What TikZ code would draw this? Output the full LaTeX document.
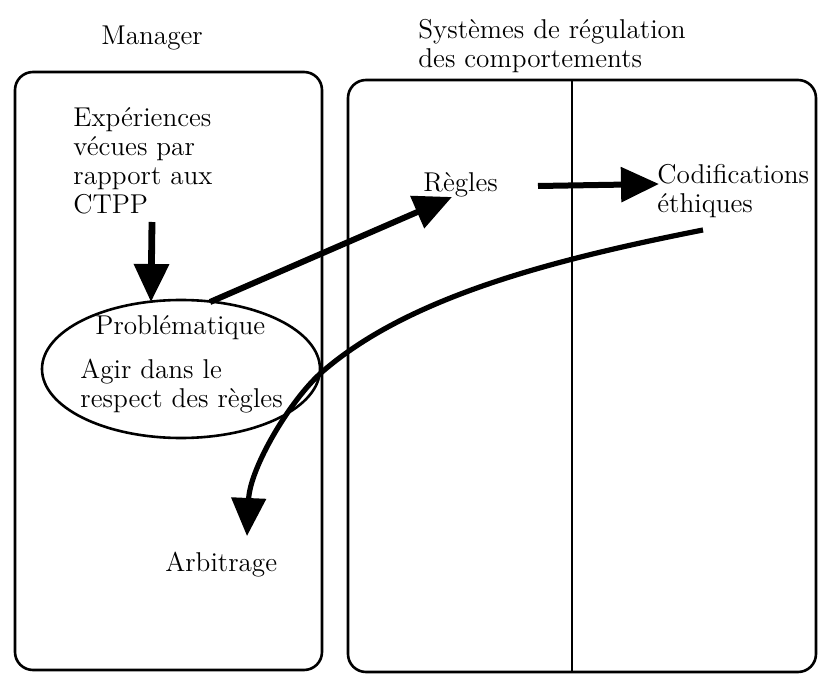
\documentclass[tikz,border=0pt]{standalone}
\usetikzlibrary{arrows.meta,shapes.geometric}
\begin{document}
\begin{tikzpicture}[x=0.5pt,y=-0.5pt,
  lbl/.style={inner sep=0pt,anchor=base west,align=left,
    font=\fontsize{13.6}{14.6}\selectfont},
  panel/.style={draw,line width=1.3pt,rounded corners=9pt},
  bigtip/.style={-{Triangle[length=19pt,width=17pt]}},
  thickarrow/.style={bigtip,line width=3pt},
  divider/.style={line width=0.6pt}]
\useasboundingbox (0,0) rectangle (821,674);

% the two panels
\draw[panel] (15,72) rectangle (322,670);
\draw[panel] (348,80) rectangle (816,672);
\coordinate (divtop) at (572,80);
\coordinate (divbot) at (572,672);
\draw[divider] (divtop) -- (divbot);

% headings (multi-line labels sit on the baseline of their last line)
\node[lbl] (mgr) at (101,45) {Manager};
\node[lbl] (srg) at (418,68) {Systèmes de régulation\\des comportements};

% manager side
\node[lbl] (exp) at (73,214) {Expériences\\vécues par\\rapport aux\\CTPP};
\node[draw,ellipse,line width=1.3pt,minimum width=139pt,minimum height=69pt,inner sep=0pt]
  (ell) at (181,369) {};
\node[lbl] (prob) at (95,335) {Problématique};
\node[lbl] (agir) at (80,408) {Agir dans le\\respect des règles};
\node[lbl] (arb) at (165,572) {Arbitrage};

% regulation side
\node[lbl] (reg) at (423,192) {Règles};
\node[lbl] (cod) at (657,213) {Codifications\\éthiques};

% connectors
\coordinate (expout) at (152,222);
\coordinate (ellin) at (151,302);
\coordinate (ellout) at (210,302);
\coordinate (regin) at (452,197);
\coordinate (regout) at (538,186);
\coordinate (codin) at (659,184);
\coordinate (codout) at (703,230);
\coordinate (arbin) at (247,536);

\draw[bigtip,line width=3.4pt] (expout) -- (ellin);
\draw[thickarrow] (ellout) -- (regin);
\draw[thickarrow] (regout) -- (codin);
\draw[bigtip,line width=2.6pt] (codout)
  .. controls (540,262) and (405,300) .. (322,372)
  .. controls (290,400) and (250,468) .. (arbin);
\end{tikzpicture}
\end{document}
